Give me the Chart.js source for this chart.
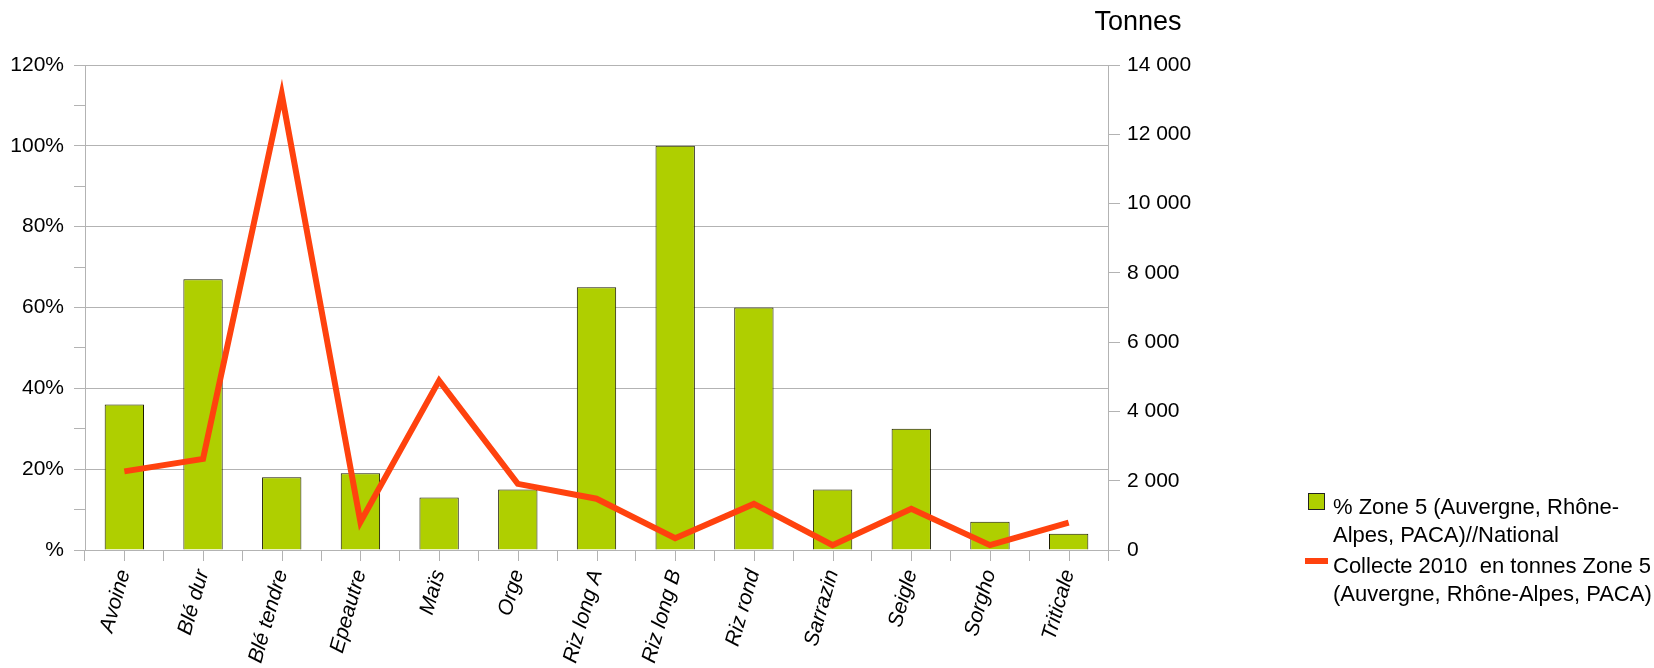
<!DOCTYPE html>
<html lang="fr">
<head>
    <meta charset="UTF-8">
    <title>Collecte 2010 Zone 5</title>
    <script src="https://cdn.jsdelivr.net/npm/chart.js"></script>
    <style>
        html, body { margin: 0; padding: 0; background: #fff; }
        #wrap { width: 1654px; height: 668px; }
    </style>
</head>
<body>
<div id="wrap"><canvas id="chart" width="1654" height="668"></canvas></div>

<script>
    // données
    const categories = ['Avoine', 'Blé dur', 'Blé tendre', 'Epeautre', 'Maïs', 'Orge', 'Riz long A',
        'Riz long B', 'Riz rond', 'Sarrazin', 'Seigle', 'Sorgho', 'Triticale'];
    const partZone5 = [0.36, 0.67, 0.18, 0.19, 0.13, 0.15, 0.65, 1.00, 0.60, 0.15, 0.30, 0.07, 0.04];
    const collecte2010 = [2270, 2630, 13160, 810, 4890, 1910, 1480, 340, 1330, 140, 1190, 140, 790];

    const leftTickLabels = ['%', '20%', '40%', '60%', '80%', '100%', '120%'];
    const rightTickLabels = ['0', '2 000', '4 000', '6 000', '8 000', '10 000', '12 000', '14 000'];
    const rightAxisTitle = 'Tonnes';
    const legendBar = ['% Zone 5 (Auvergne, Rhône-', 'Alpes, PACA)//National'];
    const legendLine = ['Collecte 2010  en tonnes Zone 5', '(Auvergne, Rhône-Alpes, PACA)'];

    const FONT = 'Liberation Sans, Arial, sans-serif';
    const GRID = '#b3b3b3';
    const GREEN = '#afcf00';
    const ORANGE = '#ff420e';

    // titre "Tonnes", petits traits au milieu des catégories, légende à droite
    const extras = {
        id: 'extras',
        afterDraw(chart) {
            const c = chart.ctx;
            const xs = chart.scales.x;
            c.save();

            c.strokeStyle = GRID;
            c.lineWidth = 1;
            c.beginPath();
            categories.forEach((_, i) => {
                const px = Math.round(xs.getPixelForTick(i)) + 0.5;
                c.moveTo(px, xs.top);
                c.lineTo(px, xs.top + 11);
            });
            c.stroke();

            c.fillStyle = '#000';
            c.font = '27px ' + FONT;
            c.textAlign = 'center';
            c.textBaseline = 'alphabetic';
            c.fillText(rightAxisTitle, 1138, 30);

            c.font = '22px ' + FONT;
            c.textAlign = 'left';
            // carré vert
            c.fillStyle = GREEN;
            c.fillRect(1308, 493, 17, 17);
            c.strokeStyle = '#222';
            c.lineWidth = 1;
            c.strokeRect(1308.5, 493.5, 16, 16);
            c.fillStyle = '#000';
            legendBar.forEach((t, i) => c.fillText(t, 1333, 514 + i * 28));
            // trait orange
            c.strokeStyle = ORANGE;
            c.lineWidth = 6;
            c.beginPath();
            c.moveTo(1305, 561);
            c.lineTo(1328, 561);
            c.stroke();
            legendLine.forEach((t, i) => c.fillText(t, 1333, 573 + i * 28));
            c.restore();
        }
    };

    const ctx = document.getElementById('chart').getContext('2d');
    new Chart(ctx, {
        data: {
            labels: categories,
            datasets: [{
                type: 'line',
                label: legendLine.join(' '),
                data: collecte2010,
                yAxisID: 'y1',
                borderColor: ORANGE,
                borderWidth: 6,
                pointRadius: 0,
                tension: 0,
                borderJoinStyle: 'miter',
                order: 0
            }, {
                type: 'bar',
                label: legendBar.join(''),
                data: partZone5,
                yAxisID: 'y',
                backgroundColor: GREEN,
                borderColor: '#1a1a00',
                borderWidth: 1,
                categoryPercentage: 1,
                barPercentage: 0.5,
                order: 1
            }]
        },
        options: {
            responsive: false,
            animation: false,
            layout: { padding: { top: 65, left: 0, right: 0, bottom: 0 } },
            plugins: {
                legend: { display: false },
                tooltip: { enabled: false }
            },
            scales: {
                x: {
                    offset: true,
                    grid: {
                        offset: true,
                        drawOnChartArea: false,
                        color: GRID,
                        tickLength: 11
                    },
                    border: { color: GRID },
                    ticks: {
                        color: '#000',
                        font: { family: FONT, size: 21, style: 'italic' },
                        minRotation: 74,
                        maxRotation: 74,
                        padding: 6,
                        autoSkip: false
                    },
                    afterFit(s) { s.height = 668 - 550; }
                },
                y: {
                    position: 'left',
                    min: 0,
                    max: 1.2,
                    ticks: {
                        stepSize: 0.1,
                        color: '#000',
                        font: { family: FONT, size: 21 },
                        padding: 10,
                        callback: (v, i) => (i % 2 === 0 ? leftTickLabels[i / 2] : '')
                    },
                    grid: {
                        color: c => (c.index % 2 === 0 ? GRID : 'rgba(0,0,0,0)'),
                        tickColor: GRID,
                        tickLength: 11
                    },
                    border: { color: GRID },
                    afterFit(s) { s.width = 85; }
                },
                y1: {
                    position: 'right',
                    min: 0,
                    max: 14000,
                    ticks: {
                        stepSize: 2000,
                        color: '#000',
                        font: { family: FONT, size: 21 },
                        padding: 7,
                        callback: (v, i) => rightTickLabels[i]
                    },
                    grid: {
                        drawOnChartArea: false,
                        color: GRID,
                        tickLength: 12
                    },
                    border: { color: GRID },
                    afterFit(s) { s.width = 1654 - 1108; }
                }
            }
        },
        plugins: [extras]
    });
</script>
</body>
</html>
